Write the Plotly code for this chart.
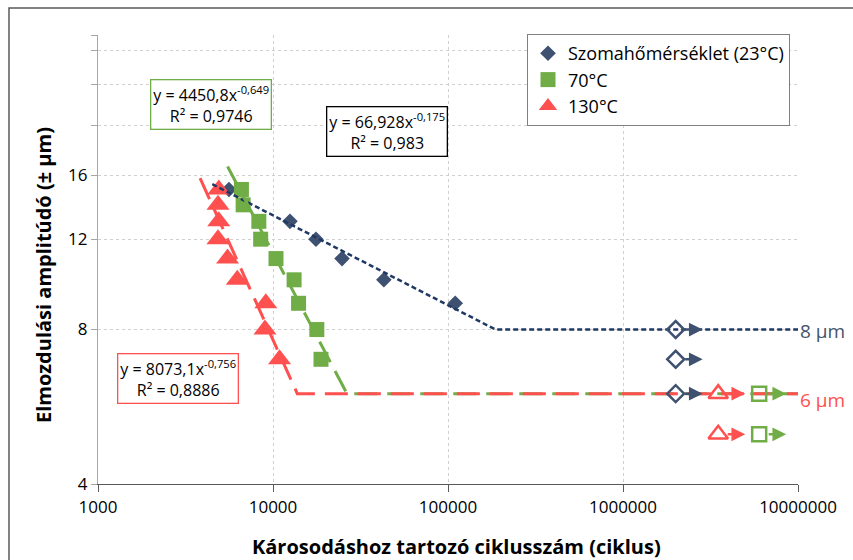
import numpy as np
import plotly.graph_objects as go

# ---------------- data ----------------
rt_cycles = [5600, 12500, 17600, 24800, 43000, 110000]
rt_amp = [15, 13, 12, 11, 10, 9]
c70_cycles = [6600, 6750, 8300, 8500, 10400, 13200, 14000, 17800, 18800]
c70_amp = [15, 14, 13, 12, 11, 10, 9, 8, 7]
c130_cycles = [4900, 4850, 4900, 4850, 5500, 6250, 9100, 9000, 10900]
c130_amp = [15, 14, 13, 12, 11, 10, 9, 8, 7]

# run-outs (no failure)
rt_runout_cycles = [2e6, 2e6, 2e6]
rt_runout_amp = [8, 7, 6]
c130_runout_cycles = [3.5e6, 3.5e6]
c130_runout_amp = [6, 5]
c70_runout_cycles = [6e6, 6e6]
c70_runout_amp = [6, 5]

# power-law trend lines y = a*x^b, fatigue limit level
rt_fit = dict(a=66.928, b=-0.175, start=4500, level=8, r2="0,983",
              eq="y = 66,928x<sup>-0,175</sup>")
c70_fit = dict(a=4450.8, b=-0.649, start=5500, level=6, r2="0,9746",
               eq="y = 4450,8x<sup>-0,649</sup>")
c130_fit = dict(a=8073.1, b=-0.756, start=3830, level=6, r2="0,8886",
                eq="y = 8073,1x<sup>-0,756</sup>")
x_end = 1e7

y_tickvals = [4, 8, 12, 16, 20, 24, 28, 30]
y_ticktext = ["4", "8", "12", "16", "", "", "", ""]
x_tickvals = [1000, 10000, 100000, 1000000, 10000000]
x_ticktext = ["1000", "10000", "100000", "1000000", "10000000"]

names = ["Szomahőmérséklet (23°C)", "70°C", "130°C"]

# ---------------- style ----------------
NAVY = "#3F5170"
NAVY_LINE = "#1F3864"
GREEN = "#70AD47"
RED = "#FF5050"
FONT = "'Open Sans', sans-serif"

L, R, T, B = 98, 55, 35, 76
W, H = 853, 560
PW, PH = W - L - R, H - T - B


def px2paper_x(px):
    return (px - L) / PW


def px2paper_y(py):
    return (H - B - py) / PH


def trend(f):
    xi = (f["level"] / f["a"]) ** (1.0 / f["b"])
    xs = [f["start"], xi, x_end]
    ys = [f["a"] * f["start"] ** f["b"], f["level"], f["level"]]
    return xs, ys


fig = go.Figure()

# measured points
fig.add_trace(go.Scatter(x=rt_cycles, y=rt_amp, mode="markers", name=names[0],
                         marker=dict(symbol="diamond", size=12, color=NAVY)))
fig.add_trace(go.Scatter(x=c70_cycles, y=c70_amp, mode="markers", name=names[1],
                         marker=dict(symbol="square", size=15, color=GREEN)))
fig.add_trace(go.Scatter(x=c130_cycles, y=c130_amp, mode="markers", name=names[2],
                         marker=dict(symbol="triangle-up", size=20, color=RED)))

# trend lines
xs, ys = trend(rt_fit)
fig.add_trace(go.Scatter(x=xs, y=ys, mode="lines", showlegend=False, hoverinfo="skip",
                         line=dict(color=NAVY_LINE, width=2.5, dash="5px,3px")))
xs, ys = trend(c70_fit)
fig.add_trace(go.Scatter(x=xs, y=ys, mode="lines", showlegend=False, hoverinfo="skip",
                         line=dict(color=GREEN, width=3, dash="23px,10px")))
xs, ys = trend(c130_fit)
fig.add_trace(go.Scatter(x=xs, y=ys, mode="lines", showlegend=False, hoverinfo="skip",
                         line=dict(color=RED, width=3, dash="23px,10px")))

# run-out markers
fig.add_trace(go.Scatter(x=rt_runout_cycles, y=rt_runout_amp, mode="markers", showlegend=False,
                         marker=dict(symbol="diamond-open", size=13, color=NAVY,
                                     line=dict(width=2.5, color=NAVY))))
fig.add_trace(go.Scatter(x=c130_runout_cycles, y=c130_runout_amp, mode="markers", showlegend=False,
                         marker=dict(symbol="triangle-up-open", size=17, color=RED,
                                     line=dict(width=2.5, color=RED))))
fig.add_trace(go.Scatter(x=c70_runout_cycles, y=c70_runout_amp, mode="markers", showlegend=False,
                         marker=dict(symbol="square-open", size=14, color=GREEN,
                                     line=dict(width=2.5, color=GREEN))))

annotations = []
head_off = 27 / 175.0
for cyc, amp, col in [(rt_runout_cycles, rt_runout_amp, NAVY),
                      (c130_runout_cycles, c130_runout_amp, RED),
                      (c70_runout_cycles, c70_runout_amp, GREEN)]:
    for c, a in zip(cyc, amp):
        annotations.append(dict(x=np.log10(c) + head_off, y=np.log10(a), xref="x", yref="y",
                                text="", showarrow=True, ax=-19, ay=0, arrowhead=2,
                                arrowsize=1.1, arrowwidth=2.5, arrowcolor=col, standoff=0,
                                startstandoff=0))

# equation boxes
def eqbox(f, cx, cy, border):
    return dict(x=px2paper_x(cx), y=px2paper_y(cy), xref="paper", yref="paper",
                text=f["eq"] + "<br>R² = " + f["r2"], showarrow=False,
                font=dict(family=FONT, size=16, color="#000000"), align="center",
                bgcolor="white", bordercolor=border, borderwidth=1.3, borderpad=2,
                xanchor="center", yanchor="middle")


annotations.append(eqbox(c70_fit, 211, 104.5, GREEN))
annotations.append(eqbox(rt_fit, 387, 131.5, "#000000"))
annotations.append(eqbox(c130_fit, 178, 378, RED))

# level labels
annotations.append(dict(x=1.0, y=np.log10(8), xref="paper", yref="y", text="8 μm",
                        showarrow=False, xanchor="left", yanchor="middle", xshift=0, yshift=-1,
                        font=dict(family=FONT, size=19, color="#44546A")))
annotations.append(dict(x=1.0, y=np.log10(6), xref="paper", yref="y", text="6 μm",
                        showarrow=False, xanchor="left", yanchor="middle", xshift=0, yshift=-6,
                        font=dict(family=FONT, size=19, color=RED)))

# axis titles
annotations.append(dict(x=px2paper_x(43), y=px2paper_y(275), xref="paper", yref="paper",
                        text="<b>Elmozdulási amplitúdó (± μm)</b>", textangle=-90,
                        showarrow=False, font=dict(family=FONT, size=20, color="#000000"),
                        xanchor="center", yanchor="middle"))
annotations.append(dict(x=px2paper_x(456), y=px2paper_y(546), xref="paper", yref="paper",
                        text="<b>Károsodáshoz tartozó ciklusszám (ciklus)</b>",
                        showarrow=False, font=dict(family=FONT, size=20, color="#000000"),
                        xanchor="center", yanchor="middle"))

shapes = [dict(type="rect", xref="paper", yref="paper",
               x0=px2paper_x(9), x1=px2paper_x(870), y0=px2paper_y(580), y1=px2paper_y(8),
               line=dict(color="#595959", width=1.5), fillcolor="rgba(0,0,0,0)", layer="below")]

fig.update_layout(
    width=W, height=H,
    margin=dict(l=L, r=R, t=T, b=B, pad=0),
    paper_bgcolor="white", plot_bgcolor="white",
    font=dict(family=FONT, size=17, color="#000000"),
    showlegend=True,
    legend=dict(x=px2paper_x(527), y=px2paper_y(34), xanchor="left", yanchor="top",
                bgcolor="white", bordercolor="#808080", borderwidth=1,
                font=dict(family=FONT, size=18, color="#000000"),
                itemsizing="trace", tracegroupgap=0),
    annotations=annotations,
    shapes=shapes,
    xaxis=dict(type="log", range=[3, 7], tickvals=x_tickvals, ticktext=x_ticktext,
               showgrid=True, gridcolor="#D0D0D0", griddash="3px,3px", gridwidth=1,
               showline=True, linecolor="#595959", linewidth=1.3,
               ticks="outside", ticklen=7, tickcolor="#595959", tickwidth=1,
               tickfont=dict(family=FONT, size=17, color="#000000"), zeroline=False),
    yaxis=dict(type="log", range=[np.log10(4), np.log10(30)], tickvals=y_tickvals,
               ticktext=y_ticktext, showgrid=True, gridcolor="#D0D0D0", griddash="3px,3px",
               gridwidth=1, showline=True, linecolor="#A6A6A6", linewidth=1.3,
               ticks="outside", ticklen=6, tickcolor="#A6A6A6", tickwidth=1,
               tickfont=dict(family=FONT, size=17, color="#000000"), zeroline=False),
)

fig.write_html("out.html", config={"displayModeBar": False},
               post_script="document.body.style.margin='0px';")
